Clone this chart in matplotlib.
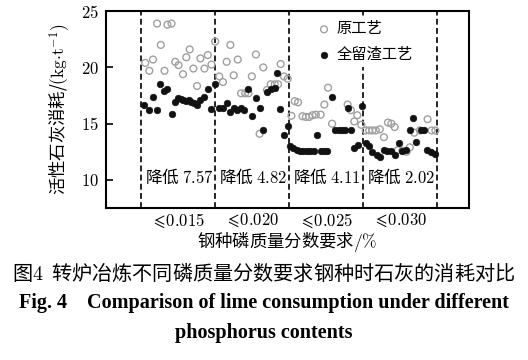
import matplotlib
matplotlib.use("Agg")
import matplotlib.pyplot as plt

plt.rcParams['font.family'] = ['Noto Sans CJK SC', 'DejaVu Sans']
plt.rcParams['mathtext.fontset'] = 'cm'
plt.rcParams['axes.unicode_minus'] = False

# ---------------- data ----------------
# sample position (heat index, 20 per group) and lime consumption, kg/t
orig_x = [1.1, 2.2, 3.2, 4.3, 5.3, 6.3, 7.1, 8.2, 9.2, 10.1, 11.3, 12.2, 13.1, 14.1, 15.1, 16.0, 17.1, 18.0, 19.0, 20.0,
          21.1, 22.1, 23.1, 24.1, 25.0, 26.1, 27.0, 28.1, 29.0, 29.9, 31.0, 32.0, 33.0, 34.0, 35.0, 36.1, 37.0, 37.7, 38.6, 39.6,
          40.6, 41.5, 42.4, 43.6, 44.5, 45.4, 46.3, 47.2, 48.5, 49.5, 50.5, 51.6, 55.8, 56.7, 57.6, 58.4, 59.5,
          60.7, 61.6, 62.5, 63.4, 64.5, 65.6, 66.7, 67.6, 68.5, 69.4, 70.6, 71.7, 72.6, 73.8, 75.3, 77.4, 78.5, 79.5]
orig_y = [20.4, 19.7, 20.7, 23.9, 22.0, 19.7, 23.8, 23.9, 20.5, 20.2, 19.4, 20.9, 21.6, 19.9, 18.35, 20.8, 19.9, 21.1, 20.25, 22.3,
          19.2, 18.7, 20.5, 22.0, 19.3, 20.7, 17.7, 17.7, 17.7, 19.2, 21.15, 14.1, 20.0, 18.0, 18.5, 18.5, 18.5, 20.3, 19.2, 19.0,
          15.7, 17.0, 16.9, 15.66, 15.6, 15.6, 15.75, 15.8, 15.8, 16.7, 18.2, 15.0, 16.7, 16.2, 15.2, 15.75, 14.9,
          14.4, 14.4, 14.4, 14.4, 14.5, 13.8, 15.1, 15.0, 14.7, 12.65, 12.6, 12.5, 12.9, 14.2, 14.4, 15.4, 14.4, 14.4]

slag_x = [0.8, 2.2, 3.3, 4.3, 5.2, 6.1, 7.1, 8.2, 9.2, 9.9, 10.7, 11.4, 12.1, 12.8, 13.5, 14.2, 15.1, 15.9, 17.0, 18.0, 18.9, 20.0,
          21.1, 22.1, 23.2, 24.1, 25.0, 25.9, 27.0, 27.9, 29.0, 30.0, 31.0, 32.0, 33.0, 34.0, 35.0, 36.1, 36.7, 37.6, 38.6, 39.6,
          40.2, 41.1, 42.0, 42.9, 43.8, 44.7, 45.7, 46.6, 47.6, 48.5, 49.4, 50.3, 51.6, 52.5, 53.4, 54.3, 55.0, 55.8, 56.7, 57.6, 58.6, 59.7,
          60.7, 61.6, 62.5, 63.6, 64.5, 65.6, 66.5, 67.4, 68.6, 69.7, 70.6, 71.7, 72.6, 73.5, 74.4, 75.5, 76.4, 77.3, 78.4, 79.3]
slag_y = [16.64, 16.2, 17.37, 16.2, 18.5, 17.9, 18.1, 15.87, 16.9, 17.3, 17.2, 17.1, 17.0, 17.1, 16.9, 16.85, 16.7, 17.1, 17.4, 18.05, 16.3, 18.5,
          16.4, 16.4, 16.85, 16.0, 16.4, 16.2, 16.4, 16.2, 18.05, 15.7, 17.3, 16.4, 14.4, 17.8, 18.1, 18.2, 19.5, 16.3, 14.0, 14.8,
          13.0, 12.8, 12.65, 12.6, 12.6, 12.6, 12.6, 12.6, 14.0, 12.6, 12.6, 12.6, 17.4, 14.4, 14.4, 14.4, 14.4, 16.35, 14.4, 12.8, 13.1, 16.6,
          13.25, 13.0, 12.5, 12.2, 12.05, 12.65, 12.6, 12.6, 12.2, 13.25, 12.6, 12.65, 14.4, 15.5, 13.4, 14.4, 14.4, 12.65, 12.5, 12.35]

group_bounds = [0, 20, 40, 60, 80]
group_centers = [10, 30, 50, 70]
group_labels = [r'${\leqslant}\!0.015$', r'${\leqslant}\!0.020$', r'${\leqslant}\!0.025$', r'${\leqslant}\!0.030$']
reductions = ['7.57', '4.82', '4.11', '2.02']
yticks = [10, 15, 20, 25]

# ---------------- figure ----------------
fig = plt.figure(figsize=(5.28, 3.60), dpi=100)
ax = fig.add_axes([0.2008, 0.422, 0.6875, 0.547])

ax.scatter(orig_x, orig_y, s=24, facecolors='none', edgecolors='#a0a0a0', linewidths=1.0,
           label='原工艺', zorder=3)
ax.scatter(slag_x, slag_y, s=22, facecolors='#111111', edgecolors='#111111', linewidths=0.5,
           label='全留渣工艺', zorder=4)

for b in group_bounds:
    ax.axvline(b, color='black', lw=1.2, ls=(0, (3.5, 2.0)), zorder=1)

for b, r in zip(group_bounds[:-1], reductions):
    ax.text(b + 1.0, 10.2, '降低 $' + r + '$', fontsize=12, va='center', ha='left', zorder=5)

ax.set_xlim(-9.5, 88.6)
ax.set_ylim(7.5, 25)
ax.set_yticks(yticks)
ax.set_yticklabels(['$%d$' % v for v in yticks], fontsize=12)
ax.set_xticks(group_centers)
ax.set_xticklabels(group_labels, fontsize=12)
ax.tick_params(axis='x', length=0, pad=2)
ax.tick_params(axis='y', direction='in', length=5, width=1.2, pad=5)
for sp in ax.spines.values():
    sp.set_linewidth(1.5)

ax.set_ylabel(r'活性石灰消耗/$(\mathrm{kg{\cdot}t^{-1}})$', fontsize=12.5, labelpad=6)
ax.set_xlabel(r'钢种磷质量分数要求$/\%$', fontsize=12.5, labelpad=0)

leg = ax.legend(loc='upper left', bbox_to_anchor=(0.55, 1.0), fontsize=11, frameon=True,
                handletextpad=0.2, borderaxespad=0.3, labelspacing=0.55, handlelength=1.2,
                borderpad=0.3)
leg.get_frame().set_edgecolor('none')
leg.get_frame().set_facecolor('white')
leg.get_frame().set_alpha(1.0)
leg.set_zorder(6)

# caption
fig.text(0.5, 1 - 273 / 360, '图$\\mathbf{4}$  转炉冶炼不同磷质量分数要求钢种时石灰的消耗对比', fontsize=14.5,
         ha='center', va='center')
fig.text(0.5, 1 - 303 / 360, 'Fig. 4    Comparison of lime consumption under different', fontsize=14.5,
         ha='center', va='center', family='Liberation Serif', weight='bold')
fig.text(0.5, 1 - 333 / 360, 'phosphorus contents', fontsize=14.5,
         ha='center', va='center', family='Liberation Serif', weight='bold')

fig.savefig('out.png', dpi=100)
